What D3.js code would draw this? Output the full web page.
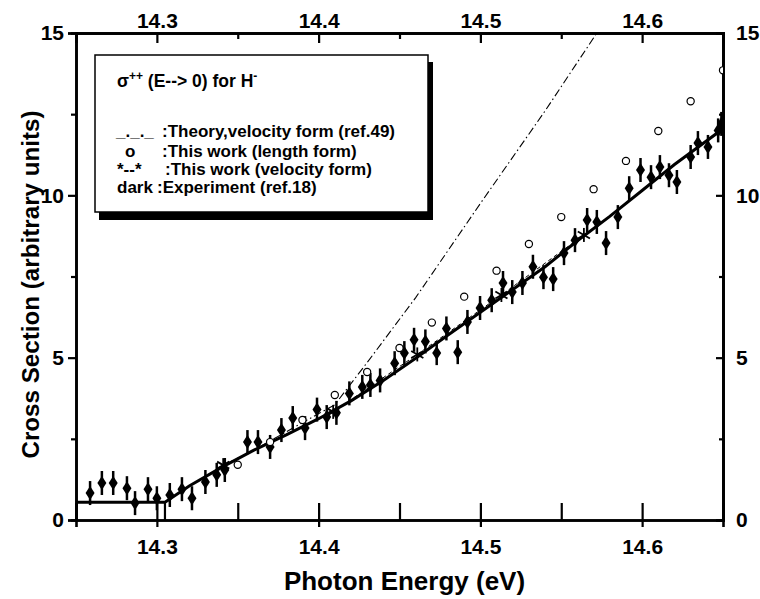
<!DOCTYPE html>
<html><head><meta charset="utf-8">
<script src="https://cdn.jsdelivr.net/npm/d3@7"></script>
<style>body{margin:0;background:#fff}svg{display:block}</style>
</head><body>
<svg id="c" width="760" height="599"></svg>
<script>
// ---------- data ----------
const xTicksMajor = [14.3, 14.4, 14.5, 14.6];
const xTicksMinor = [14.25, 14.35, 14.45, 14.55, 14.65];
const yTicksMajor = [0, 5, 10, 15];
const yTicksMinor = [2.5, 7.5, 12.5];

// experiment (dark diamonds with error bars)
const expE = [14.2587,14.266,14.273,14.2815,14.2865,14.2945,14.300,14.308,14.3155,14.3217,14.330,14.337,14.342,
  14.356,14.3625,14.370,14.377,14.384,14.3916,14.399,14.405,14.411,14.419,14.427,14.432,14.438,14.447,14.453,
  14.459,14.466,14.473,14.479,14.486,14.492,
  14.4998,14.507,14.514,14.5197,14.526,14.5325,14.539,14.545,14.5517,14.5585,14.566,14.572,14.5777,14.585,
  14.592,14.599,14.6055,14.611,14.6166,14.6215,14.630,14.6345,14.6407,14.647,14.649];
const expV = [0.83,1.14,1.14,0.98,0.52,0.95,0.67,0.77,0.95,0.67,1.17,1.39,1.54,
  2.4,2.4,2.25,2.77,3.14,2.83,3.4,3.17,3.3,3.9,4.1,4.16,4.3,4.83,5.14,
  5.55,5.5,5.14,5.9,5.17,6.1,
  6.53,6.77,7.3,7.02,7.3,7.8,7.48,7.42,8.22,8.62,9.24,9.18,8.53,9.33,
  10.22,10.78,10.56,10.87,10.62,10.41,11.18,11.61,11.49,12.0,12.2];

// this work, length form (open circles)
const lenE = [14.35,14.37,14.39,14.41,14.43,14.45,14.47,14.49,14.51,14.53,14.55,14.57,14.59,14.61,14.63,14.65];
const lenV = [1.7,2.4,3.08,3.85,4.56,5.3,6.08,6.88,7.68,8.5,9.33,10.19,11.06,11.98,12.9,13.85];

// this work, velocity form (stars)
const velE = [14.341,14.409,14.461,14.513,14.564];
const velV = [1.69,3.33,5.1,6.93,8.78];

// theory, velocity form (ref.49) dash-dot
const thE = [14.33,14.36,14.39,14.41,14.43,14.46,14.50,14.54,14.572];
const thV = [1.35,2.15,3.0,3.55,4.85,6.85,9.75,12.6,15.0];

// fitted solid curve through the experiment
const fitE = [14.25,14.305,14.32,14.34,14.36,14.38,14.40,14.42,14.44,14.46,14.48,14.50,14.52,14.54,14.56,14.58,14.60,14.62,14.65];
const fitV = [0.55,0.55,1.05,1.62,2.15,2.62,3.12,3.67,4.3,4.98,5.7,6.4,7.1,7.8,8.6,9.35,10.15,10.95,12.05];

// ---------- drawing ----------
const svg = d3.select('#c');
const L = 76, R = 723, T = 33, B = 520;
const x = d3.scaleLinear().domain([14.25, 14.65]).range([L, R]);
const y = d3.scaleLinear().domain([0, 15]).range([B, T]);
const F = '"Liberation Sans", Arial, Helvetica, sans-serif';

const zip = (a, b) => a.map((v, i) => [v, b[i]]);

// axes
const fmt = d3.format('.1f');
svg.append('g').attr('transform', `translate(0,${B})`)
  .call(d3.axisBottom(x).tickValues(xTicksMajor).tickFormat(fmt).tickSize(7).tickPadding(12));
svg.append('g').attr('transform', `translate(0,${B})`)
  .call(d3.axisTop(x).tickValues(xTicksMajor.concat(xTicksMinor)).tickFormat('').tickSize(17));
svg.append('g').attr('transform', `translate(0,${T})`)
  .call(d3.axisTop(x).tickValues(xTicksMajor).tickFormat(fmt).tickSize(0).tickPadding(5));
svg.append('g').attr('transform', `translate(0,${T})`)
  .call(d3.axisBottom(x).tickValues(xTicksMajor).tickFormat('').tickSize(10));
svg.append('g').attr('transform', `translate(0,${T})`)
  .call(d3.axisBottom(x).tickValues(xTicksMinor).tickFormat('').tickSize(6));
svg.append('g').attr('transform', `translate(${L},0)`)
  .call(d3.axisLeft(y).tickValues(yTicksMajor).tickFormat(d3.format('d')).tickSize(8).tickPadding(4));
svg.append('g').attr('transform', `translate(${L},0)`)
  .call(d3.axisLeft(y).tickValues(yTicksMinor).tickFormat('').tickSize(5));
svg.append('g').attr('transform', `translate(${R},0)`)
  .call(d3.axisRight(y).tickValues(yTicksMajor).tickFormat(d3.format('d')).tickSize(0).tickPadding(13));
svg.append('g').attr('transform', `translate(${R},0)`)
  .call(d3.axisLeft(y).tickValues(yTicksMajor).tickFormat('').tickSize(7));
svg.append('g').attr('transform', `translate(${R},0)`)
  .call(d3.axisLeft(y).tickValues(yTicksMinor).tickFormat('').tickSize(4));

svg.selectAll('.domain').attr('stroke', '#000').attr('stroke-width', 2.6);
svg.selectAll('.tick line').attr('stroke', '#000').attr('stroke-width', 2.2);
svg.selectAll('.tick text').attr('font-family', F).attr('font-weight', 'bold')
  .attr('font-size', 21).attr('fill', '#000');

// axis titles
svg.append('text').attr('x', (L + R) / 2 + 5).attr('y', 590).attr('text-anchor', 'middle')
  .attr('font-family', F).attr('font-weight', 'bold').attr('font-size', 26).text('Photon Energy (eV)');
svg.append('text').attr('transform', `translate(39,${(T + B) / 2 + 8}) rotate(-90)`).attr('text-anchor', 'middle')
  .attr('font-family', F).attr('font-weight', 'bold').attr('font-size', 24.2).text('Cross Section (arbitrary units)');

// clip
svg.append('clipPath').attr('id', 'clip').append('rect').attr('x', L).attr('y', T).attr('width', R - L).attr('height', B - T);
const plot = svg.append('g').attr('clip-path', 'url(#clip)');

const line = d3.line().x(d => x(d[0])).y(d => y(d[1]));

// theory dash-dot
plot.append('path').datum(zip(thE, thV)).attr('d', line).attr('fill', 'none')
  .attr('stroke', '#000').attr('stroke-width', 1.1).attr('stroke-dasharray', '8,3,1.5,3');

// threshold marker
plot.append('line').attr('x1', x(fitE[1])).attr('x2', x(fitE[1])).attr('y1', y(fitV[1])).attr('y2', y(0))
  .attr('stroke', '#000').attr('stroke-width', 2.2);

// fit solid
plot.append('path').datum(zip(fitE, fitV)).attr('d', line).attr('fill', 'none')
  .attr('stroke', '#000').attr('stroke-width', 3);

// velocity dashed connection
plot.append('path').datum(zip(velE, velV)).attr('d', line).attr('fill', 'none')
  .attr('stroke', '#000').attr('stroke-width', 1).attr('stroke-dasharray', '4,3');

// experiment points
const ex = plot.append('g').selectAll('g').data(zip(expE, expV)).join('g')
  .attr('transform', d => `translate(${x(d[0])},${y(d[1])})`);
ex.append('line').attr('y1', -12).attr('y2', 12).attr('stroke', '#000').attr('stroke-width', 2.5);
ex.append('path').attr('d', 'M0,-7L4.5,0L0,7L-4.5,0Z').attr('fill', '#000');

// open circles
plot.append('g').selectAll('circle').data(zip(lenE, lenV)).join('circle')
  .attr('cx', d => x(d[0])).attr('cy', d => y(d[1])).attr('r', 3.6)
  .attr('fill', '#fff').attr('stroke', '#000').attr('stroke-width', 1.2);

// stars
const starG = plot.append('g').selectAll('g').data(zip(velE, velV)).join('g')
  .attr('transform', d => `translate(${x(d[0])},${y(d[1])})`);
[0, 60, 120].forEach(a => {
  starG.append('line').attr('x1', -7).attr('x2', 7).attr('transform', `rotate(${a + 90})`)
    .attr('stroke', '#000').attr('stroke-width', 1.8);
});

// legend
const lg = svg.append('g');
lg.append('rect').attr('x', 99).attr('y', 62).attr('width', 334).attr('height', 158).attr('fill', '#000');
lg.append('rect').attr('x', 95).attr('y', 55).attr('width', 333).attr('height', 157)
  .attr('fill', '#fff').attr('stroke', '#000').attr('stroke-width', 1.5);
const lt = (xx, yy, s) => lg.append('text').attr('x', xx).attr('y', yy).attr('font-family', F)
  .attr('font-weight', 'bold').attr('font-size', 17).attr('fill', '#000').text(s);
const title = lg.append('text').attr('x', 117).attr('y', 87).attr('font-family', F)
  .attr('font-weight', 'bold').attr('font-size', 17.5);
title.append('tspan').text('σ');
title.append('tspan').attr('dy', -7).attr('font-size', 12).text('++');
title.append('tspan').attr('dy', 7).text(' (E--> 0) for H');
title.append('tspan').attr('dy', -7).attr('font-size', 12).text('-');
lt(116, 137, '_._._');
lt(162, 137, ':Theory,velocity form (ref.49)');
lt(125, 157, 'o');
lt(162, 157, ':This work (length form)');
lt(117, 175, '*--*');
lt(165, 175, ':This work (velocity form)');
lt(117, 193, 'dark');
lt(157, 193, ':Experiment (ref.18)');
</script>
</body></html>
